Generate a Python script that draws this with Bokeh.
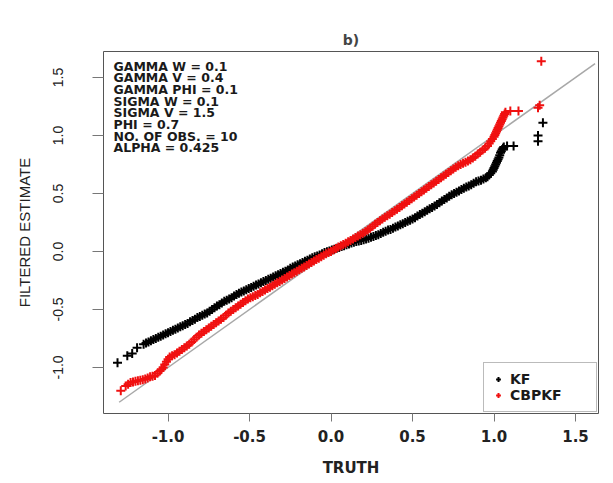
from bokeh.plotting import figure
from bokeh.models import Range1d, FixedTicker, PrintfTickFormatter, Label, Legend, LegendItem
from bokeh.embed import file_html
from bokeh.resources import INLINE

# ---------------- data ----------------
kf_truth = [-1.31, -1.25, -1.22, -1.19, -1.15, -1.12, -1.09, -1.06, -1.03, -1.00,
            -0.97, -0.94, -0.91, -0.88, -0.85, -0.82, -0.79, -0.76, -0.73, -0.70,
            -0.67, -0.64, -0.61, -0.58, -0.55, -0.52, -0.49, -0.46, -0.43, -0.40,
            -0.37, -0.34, -0.31, -0.28, -0.25, -0.22, -0.19, -0.16, -0.13, -0.10,
            -0.07, -0.04, -0.01, 0.02, 0.05, 0.08, 0.11, 0.14, 0.17, 0.20,
            0.23, 0.26, 0.29, 0.32, 0.35, 0.38, 0.41, 0.44, 0.47, 0.50,
            0.53, 0.56, 0.59, 0.62, 0.65, 0.68, 0.71, 0.74, 0.77, 0.80,
            0.83, 0.86, 0.89, 0.92, 0.95, 0.97, 0.99, 1.00, 1.01, 1.02,
            1.03, 1.04, 1.05, 1.06, 1.08, 1.12, 1.27, 1.27, 1.30]
kf_est = [-0.96, -0.90, -0.88, -0.83, -0.80, -0.78, -0.76, -0.74, -0.72, -0.70,
          -0.68, -0.66, -0.64, -0.62, -0.595, -0.57, -0.55, -0.53, -0.50, -0.47,
          -0.445, -0.42, -0.40, -0.37, -0.35, -0.33, -0.31, -0.29, -0.27, -0.25,
          -0.23, -0.21, -0.19, -0.17, -0.145, -0.125, -0.105, -0.085, -0.065, -0.045,
          -0.03, -0.01, 0.005, 0.02, 0.035, 0.05, 0.065, 0.08, 0.09, 0.10,
          0.115, 0.13, 0.145, 0.165, 0.185, 0.20, 0.22, 0.24, 0.26, 0.28,
          0.305, 0.33, 0.355, 0.38, 0.405, 0.435, 0.46, 0.49, 0.51, 0.535,
          0.555, 0.575, 0.60, 0.615, 0.635, 0.66, 0.69, 0.72, 0.75, 0.78,
          0.81, 0.85, 0.88, 0.90, 0.91, 0.91, 0.95, 1.00, 1.11]
# further readings along the dense KF band
kf_truth_b = [-1.135, -1.105, -1.075, -1.045, -1.015, -0.985, -0.955, -0.925, -0.895, -0.865,
              -0.835, -0.805, -0.775, -0.745, -0.715, -0.685, -0.655, -0.625, -0.595, -0.565,
              -0.535, -0.505, -0.475, -0.445, -0.415, -0.385, -0.355, -0.325, -0.295, -0.265,
              -0.235, -0.205, -0.175, -0.145, -0.115, -0.085, -0.055, -0.025, 0.005, 0.035,
              0.065, 0.095, 0.125, 0.155, 0.185, 0.215, 0.245, 0.275, 0.305, 0.335,
              0.365, 0.395, 0.425, 0.455, 0.485, 0.515, 0.545, 0.575, 0.605, 0.635,
              0.665, 0.695, 0.725, 0.755, 0.785, 0.815, 0.845, 0.875, 0.905, 0.935,
              0.96, 0.98, 0.995, 1.005, 1.015, 1.025, 1.035, 1.045, 1.055]
kf_est_b = [-0.79, -0.77, -0.75, -0.73, -0.71, -0.69, -0.67, -0.65, -0.63, -0.605,
            -0.585, -0.56, -0.54, -0.515, -0.485, -0.46, -0.43, -0.41, -0.385, -0.36,
            -0.34, -0.32, -0.30, -0.28, -0.26, -0.24, -0.22, -0.20, -0.18, -0.16,
            -0.135, -0.115, -0.095, -0.075, -0.055, -0.04, -0.02, -0.003, 0.012, 0.028,
            0.043, 0.058, 0.072, 0.085, 0.095, 0.108, 0.122, 0.138, 0.155, 0.175,
            0.19, 0.21, 0.23, 0.25, 0.27, 0.29, 0.318, 0.343, 0.368, 0.393,
            0.42, 0.448, 0.475, 0.50, 0.522, 0.545, 0.565, 0.588, 0.608, 0.625,
            0.645, 0.675, 0.705, 0.735, 0.765, 0.795, 0.83, 0.865, 0.89]

cb_truth = [-1.29, -1.26, -1.23, -1.20, -1.17, -1.14, -1.11, -1.08, -1.05, -1.03,
            -1.01, -0.99, -0.96, -0.93, -0.90, -0.87, -0.84, -0.81, -0.78, -0.75,
            -0.72, -0.69, -0.66, -0.63, -0.60, -0.57, -0.54, -0.51, -0.48, -0.45,
            -0.42, -0.39, -0.36, -0.33, -0.30, -0.27, -0.24, -0.21, -0.18, -0.15,
            -0.12, -0.09, -0.06, -0.03, 0.00, 0.03, 0.06, 0.09, 0.12, 0.15,
            0.18, 0.21, 0.24, 0.27, 0.30, 0.33, 0.36, 0.39, 0.42, 0.45,
            0.48, 0.51, 0.54, 0.57, 0.60, 0.63, 0.66, 0.69, 0.72, 0.75,
            0.78, 0.81, 0.84, 0.87, 0.90, 0.93, 0.96, 0.98, 1.00, 1.01,
            1.02, 1.03, 1.04, 1.05, 1.06, 1.07, 1.10, 1.15, 1.27, 1.28, 1.29]
cb_est = [-1.20, -1.16, -1.13, -1.12, -1.11, -1.10, -1.08, -1.07, -1.03, -1.00,
          -0.95, -0.91, -0.89, -0.86, -0.83, -0.80, -0.76, -0.72, -0.69, -0.66,
          -0.63, -0.60, -0.57, -0.53, -0.50, -0.47, -0.44, -0.41, -0.39, -0.37,
          -0.345, -0.32, -0.295, -0.27, -0.245, -0.22, -0.195, -0.17, -0.145, -0.12,
          -0.095, -0.07, -0.045, -0.02, 0.00, 0.025, 0.05, 0.07, 0.095, 0.12,
          0.145, 0.17, 0.20, 0.235, 0.265, 0.295, 0.32, 0.35, 0.38, 0.41,
          0.44, 0.47, 0.50, 0.53, 0.56, 0.59, 0.62, 0.65, 0.68, 0.71,
          0.74, 0.76, 0.78, 0.805, 0.84, 0.875, 0.91, 0.95, 0.99, 1.02,
          1.05, 1.08, 1.11, 1.14, 1.17, 1.20, 1.21, 1.21, 1.24, 1.26, 1.64]
# further readings along the dense CBPKF band
cb_truth_b = [-1.245, -1.215, -1.185, -1.155, -1.125, -1.095, -1.065, -1.04, -1.02, -1.00,
              -0.975, -0.945, -0.915, -0.885, -0.855, -0.825, -0.795, -0.765, -0.735, -0.705,
              -0.675, -0.645, -0.615, -0.585, -0.555, -0.525, -0.495, -0.465, -0.435, -0.405,
              -0.375, -0.345, -0.315, -0.285, -0.255, -0.225, -0.195, -0.165, -0.135, -0.105,
              -0.075, -0.045, -0.015, 0.015, 0.045, 0.075, 0.105, 0.135, 0.165, 0.195,
              0.225, 0.255, 0.285, 0.315, 0.345, 0.375, 0.405, 0.435, 0.465, 0.495,
              0.525, 0.555, 0.585, 0.615, 0.645, 0.675, 0.705, 0.735, 0.765, 0.795,
              0.825, 0.855, 0.885, 0.915, 0.945, 0.97, 0.99, 1.005, 1.015, 1.025,
              1.035, 1.045, 1.055, 1.065]
cb_est_b = [-1.145, -1.125, -1.115, -1.105, -1.09, -1.075, -1.05, -1.015, -0.975, -0.93,
            -0.90, -0.875, -0.845, -0.815, -0.78, -0.74, -0.705, -0.675, -0.645, -0.615,
            -0.585, -0.55, -0.515, -0.485, -0.455, -0.425, -0.40, -0.38, -0.357, -0.333,
            -0.308, -0.283, -0.258, -0.233, -0.208, -0.183, -0.158, -0.133, -0.108, -0.083,
            -0.058, -0.033, -0.01, 0.012, 0.038, 0.06, 0.083, 0.108, 0.133, 0.158,
            0.185, 0.218, 0.25, 0.28, 0.308, 0.335, 0.365, 0.395, 0.425, 0.455,
            0.485, 0.515, 0.545, 0.575, 0.605, 0.635, 0.665, 0.695, 0.725, 0.75,
            0.77, 0.79, 0.82, 0.855, 0.89, 0.93, 0.97, 1.005, 1.035, 1.065,
            1.095, 1.125, 1.155, 1.185]

ref_line = [-1.30, 1.62]          # y = x reference line end points
x_ticks = [-1.0, -0.5, 0.0, 0.5, 1.0, 1.5]
y_ticks = [-1.0, -0.5, 0.0, 0.5, 1.0, 1.5]
info_lines = ["GAMMA W = 0.1", "GAMMA V = 0.4", "GAMMA PHI = 0.1", "SIGMA W = 0.1",
              "SIGMA V = 1.5", "PHI = 0.7", "NO. OF OBS. = 10", "ALPHA = 0.425"]
series_names = ["KF", "CBPKF"]
title_text = "b)"
x_title = "TRUTH"
y_title = "FILTERED ESTIMATE"

# ---------------- figure ----------------
X0, X1 = -1.396, 1.641
Y0, Y1 = -1.397, 1.724
FW, FH = 495, 362

p = figure(width=613, height=483, x_range=Range1d(X0, X1), y_range=Range1d(Y0, Y1),
           output_backend="svg", toolbar_location=None,
           min_border_left=103, min_border_right=15, min_border_top=51, min_border_bottom=70)
p.background_fill_color = "white"
p.border_fill_color = "white"
p.grid.visible = False
p.outline_line_color = "#555555"
p.outline_line_width = 1

p.title.text = title_text
p.title.align = "center"
p.title.text_font = "DejaVu Sans"
p.title.text_font_style = "bold"
p.title.text_font_size = "14px"
p.title.standoff = 8

for ax in (p.xaxis[0], p.yaxis[0]):
    ax.axis_line_color = None
    ax.major_tick_line_color = "#777777"
    ax.major_tick_line_width = 1
    ax.minor_tick_line_color = None
    ax.major_tick_in = 0
    ax.formatter = PrintfTickFormatter(format="%.1f")
    ax.major_label_text_color = "#222222"
    ax.axis_label_text_color = "#222222"
    ax.axis_label_text_font_style = "bold"

p.xaxis.ticker = FixedTicker(ticks=x_ticks)
p.xaxis.major_tick_out = 8
p.xaxis.major_label_standoff = 8
p.xaxis.major_label_text_font = "DejaVu Sans"
p.xaxis.major_label_text_font_style = "bold"
p.xaxis.major_label_text_font_size = "15px"
p.xaxis.axis_label = x_title
p.xaxis.axis_label_text_font = "DejaVu Sans"
p.xaxis.axis_label_text_font_size = "15px"
p.xaxis.axis_label_standoff = 14

p.yaxis.ticker = FixedTicker(ticks=y_ticks)
p.yaxis.major_tick_out = 11
p.yaxis.major_label_standoff = 29
p.yaxis.major_label_orientation = "vertical"
p.yaxis.major_label_text_font = "Liberation Sans"
p.yaxis.major_label_text_font_style = "normal"
p.yaxis.major_label_text_font_size = "14px"
p.yaxis.axis_label = y_title
p.yaxis.axis_label_text_font = "Liberation Sans"
p.yaxis.axis_label_text_font_style = "normal"
p.yaxis.axis_label_text_font_size = "15px"
p.yaxis.axis_label_standoff = 18

# reference diagonal
p.line(ref_line, ref_line, line_color="#a8a8a8", line_width=1.5)

kf = p.scatter(kf_truth + kf_truth_b, kf_est + kf_est_b, marker="cross", size=9,
               line_width=2, line_color="black")
cb = p.scatter(cb_truth + cb_truth_b, cb_est + cb_est_b, marker="cross", size=9,
               line_width=2, line_color="#f01010")

# info text block (top-left inside the frame)
px_x = (X1 - X0) / FW
px_y = (Y1 - Y0) / FH
for i, t in enumerate(info_lines):
    p.add_layout(Label(x=X0 + 10 * px_x, y=Y1 - (7 + 11.7 * i) * px_y, text=t,
                       text_font="DejaVu Sans", text_font_style="bold",
                       text_font_size="12.5px", text_color="#1a1a1a",
                       text_baseline="top", text_align="left"))

legend = Legend(items=[LegendItem(label=series_names[0], renderers=[kf]),
                       LegendItem(label=series_names[1], renderers=[cb])],
                location="bottom_right")
legend.label_text_font = "DejaVu Sans"
legend.label_text_font_style = "bold"
legend.label_text_font_size = "14px"
legend.label_text_color = "#1a1a1a"
legend.border_line_color = "#777777"
legend.border_line_width = 1
legend.margin = 1
legend.padding = 8
legend.spacing = 0
legend.glyph_width = 12
legend.glyph_height = 16
legend.label_height = 16
legend.label_width = 78
legend.label_standoff = 6
p.add_layout(legend)

open("out.html", "w").write(file_html(p, INLINE))
